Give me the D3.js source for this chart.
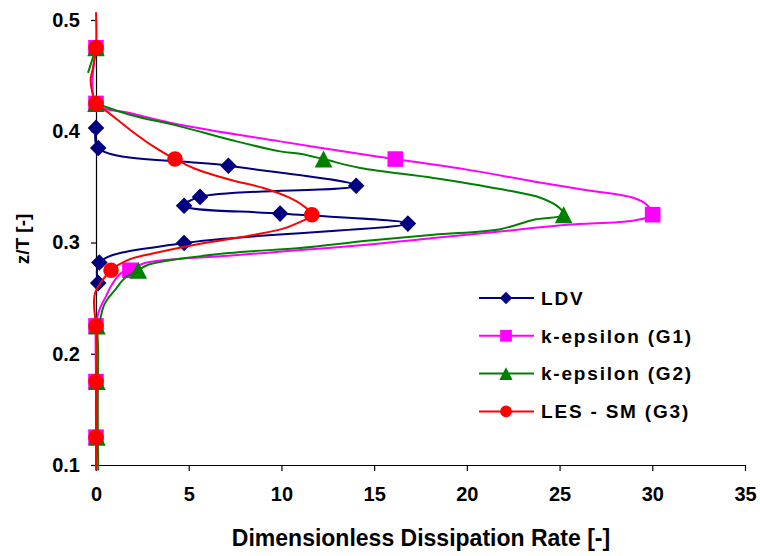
<!DOCTYPE html>
<html>
<head>
<meta charset="utf-8">
<script src="https://cdn.jsdelivr.net/npm/d3@7"></script>
<style>
  html, body { margin: 0; padding: 0; background: #fff; }
  svg { display: block; font-family: "Liberation Sans", Arial, Helvetica, sans-serif; font-weight: bold; }
</style>
</head>
<body>
<svg id="chart" width="760" height="556"></svg>
<script>
// ---- axis ticks ----
const xTicks = [0, 5, 10, 15, 20, 25, 30, 35];
const zTicks = [0.1, 0.2, 0.3, 0.4, 0.5];

// ---- LDV measurements (z/T, dissipation) ----
const ldvZ   = [0.403, 0.385, 0.369, 0.351, 0.341, 0.333, 0.326, 0.317, 0.2995, 0.282, 0.2635];
const ldvEps = [0.0,   0.12,  7.14,  14.03, 5.61,  4.75,  9.93,  16.82, 4.75,   0.18,  0.12];

// ---- k-epsilon (G1) profile ----
const g1LineZ   = [0.475, 0.425, 0.4164, 0.4058, 0.3909, 0.3768, 0.375, 0.3655, 0.3549, 0.3474, 0.340, 0.334, 0.325,
                   0.3198, 0.3159, 0.3099, 0.304, 0.298, 0.2925, 0.288, 0.2815, 0.275, 0.2725, 0.262, 0.252, 0.2424,
                   0.235, 0.225, 0.175, 0.125, 0.095];
const g1LineEps = [0.0, 0.0, 1.83, 4.53, 9.93, 15.33, 16.14, 20.0, 23.6, 26.3, 29.0, 29.7, 30.02,
                   29.0, 25.4, 21.8, 18.2, 14.6, 10.5, 7.14, 2.64, 1.83, 1.35, 0.85, 0.55, 0.25,
                   0.1, 0.0, 0.0, 0.0, 0.0];
const g1MarkZ   = [0.475, 0.425, 0.375, 0.325, 0.275, 0.225, 0.175, 0.125];
const g1MarkEps = [0.0,   0.0,   16.14, 30.02, 1.83,  0.0,   0.0,   0.0];

// ---- k-epsilon (G2) profile (null = break in the line) ----
const g2LineZ   = [0.475, 0.4525, 0.44, 0.425, 0.4149, 0.4044, 0.3924, 0.3819, 0.3798, 0.375, 0.367, 0.358, 0.348,
                   0.340, 0.331, 0.325, 0.3204, 0.312, 0.307, 0.3015, 0.295, 0.2905, 0.280, 0.275, 0.268, 0.2574,
                   0.2485, 0.2424, 0.2305, 0.225, 0.2, 0.175, 0.125, 0.095];
const g2LineEps = [0.0, -0.43, null, 0.0, 1.83, 4.53, 7.23, 9.93, 11.0, 12.27, 14.25, 18.2, 21.8,
                   24.0, 25.0, 25.22, 23.6, 21.8, 18.2, 14.6, 11.0, 7.14, 2.82, 2.28, 1.56, 1.03,
                   0.6, 0.4, 0.22, 0.1, 0.12, 0.1, 0.1, 0.12];
const g2MarkZ   = [0.475, 0.425, 0.375, 0.325, 0.275, 0.225, 0.175, 0.125];
const g2MarkEps = [0.0,   0.0,   12.27, 25.22, 2.28,  0.05,  0.05,  0.05];

// ---- LES - SM (G3) profile ----
const lesLineZ   = [0.507, 0.475, 0.458, 0.4464, 0.4374, 0.425, 0.4179, 0.4014, 0.3864, 0.375, 0.3663, 0.3564,
                    0.349, 0.3405, 0.3339, 0.325, 0.3166, 0.312, 0.307, 0.298, 0.2905, 0.2844, 0.275, 0.2545,
                    0.2424, 0.225, 0.2, 0.175, 0.125, 0.0955];
const lesLineEps = [0.0, 0.0, -0.15, -0.29, -0.23, 0.0, 0.58, 1.83, 3.09, 4.26, 5.34, 7.23,
                    9.03, 10.4, 11.1, 11.64, 10.74, 10.0, 8.58, 5.34, 3.18, 1.74, 0.81, -0.05,
                    -0.1, 0.0, 0.03, 0.0, 0.0, 0.0];
const lesMarkZ   = [0.475, 0.425, 0.375, 0.325, 0.275, 0.225, 0.175, 0.125];
const lesMarkEps = [0.0,   0.0,   4.26,  11.64, 0.81,  0.0,   0.0,   0.0];

// ---- series definitions ----
const zip = (zs, es) => zs.map((z, i) => ({ z, e: es[i] }));
const series = [
  { name: "LDV",             color: "#000080", shape: "diamond",  line: zip(ldvZ, ldvEps),       marks: zip(ldvZ, ldvEps) },
  { name: "k-epsilon (G1)",  color: "#FF00FF", shape: "square",   line: zip(g1LineZ, g1LineEps),  marks: zip(g1MarkZ, g1MarkEps) },
  { name: "k-epsilon (G2)",  color: "#008000", shape: "triangle", line: zip(g2LineZ, g2LineEps),  marks: zip(g2MarkZ, g2MarkEps) },
  { name: "LES - SM (G3)",   color: "#FF0000", shape: "circle",   line: zip(lesLineZ, lesLineEps), marks: zip(lesMarkZ, lesMarkEps) }
];

// ---- layout ----
const svg = d3.select("#chart");
const x = d3.scaleLinear().domain([0, 35]).range([96, 745]);
const y = d3.scaleLinear().domain([0.1, 0.5]).range([465, 20]);

// marker shapes, k scales the size (1 = plot, smaller in legend)
function markerPath(shape, k) {
  const p = d3.path();
  if (shape === "diamond") {
    const r = 8.3 * k;
    p.moveTo(0, -r); p.lineTo(r, 0); p.lineTo(0, r); p.lineTo(-r, 0); p.closePath();
  } else if (shape === "square") {
    const h = 7.8 * k;
    p.rect(-h, -h, 2 * h, 2 * h);
  } else if (shape === "triangle") {
    const w = 8.8 * k, h = 8.5 * k;
    p.moveTo(0, -h); p.lineTo(w, h); p.lineTo(-w, h); p.closePath();
  } else {
    const r = 7.8 * k;
    p.moveTo(r, 0); p.arc(0, 0, r, 0, 2 * Math.PI);
  }
  return p.toString();
}

// ---- axes ----
const xAxis = d3.axisBottom(x).tickValues(xTicks).tickFormat(d3.format("d")).tickSize(6).tickSizeOuter(0).tickPadding(16);
const yAxis = d3.axisLeft(y).tickValues(zTicks).tickFormat(d3.format(".1f")).tickSize(5).tickSizeOuter(0).tickPadding(11);

const gx = svg.append("g").attr("transform", "translate(0,465)").call(xAxis);
const gy = svg.append("g").attr("transform", "translate(96,0)").call(yAxis);
[gx, gy].forEach(g => {
  g.selectAll("text").attr("font-size", 20).attr("font-family", null).attr("fill", "#000");
  g.selectAll("line, path").attr("stroke", "#000").attr("stroke-width", 1.2);
});

// ---- series: line then markers, in series order ----
const lineGen = d3.line()
  .defined(d => d.e !== null)
  .x(d => x(d.e))
  .y(d => y(d.z))
  .curve(d3.curveCatmullRom.alpha(0.5));

series.forEach(s => {
  const g = svg.append("g");
  g.append("path")
    .attr("d", lineGen(s.line))
    .attr("fill", "none")
    .attr("stroke", s.color)
    .attr("stroke-width", 2)
    .attr("stroke-linejoin", "round");
  g.selectAll("path.mk").data(s.marks).join("path")
    .attr("class", "mk")
    .attr("d", markerPath(s.shape, 1))
    .attr("transform", d => `translate(${x(d.e)},${y(d.z)})`)
    .attr("fill", s.color);
});

// ---- legend ----
const legend = svg.append("g").attr("transform", "translate(479,298)");
series.forEach((s, i) => {
  const row = legend.append("g").attr("transform", `translate(0,${i * 37.8})`);
  row.append("line").attr("x1", 0).attr("x2", 55).attr("y1", 0).attr("y2", 0)
    .attr("stroke", s.color).attr("stroke-width", 2);
  row.append("path").attr("d", markerPath(s.shape, 0.75))
    .attr("transform", "translate(27,0)").attr("fill", s.color);
  row.append("text").attr("x", 62).attr("y", 6.8)
    .attr("font-size", 19).attr("letter-spacing", 1.8).attr("fill", "#000")
    .text(s.name);
});

// ---- axis titles ----
svg.append("text")
  .attr("x", 421).attr("y", 546)
  .attr("text-anchor", "middle")
  .attr("font-size", 23)
  .text("Dimensionless Dissipation Rate [-]");

svg.append("text")
  .attr("transform", "translate(29,239) rotate(-90)")
  .attr("text-anchor", "middle")
  .attr("font-size", 19)
  .text("z/T [-]");
</script>
</body>
</html>
